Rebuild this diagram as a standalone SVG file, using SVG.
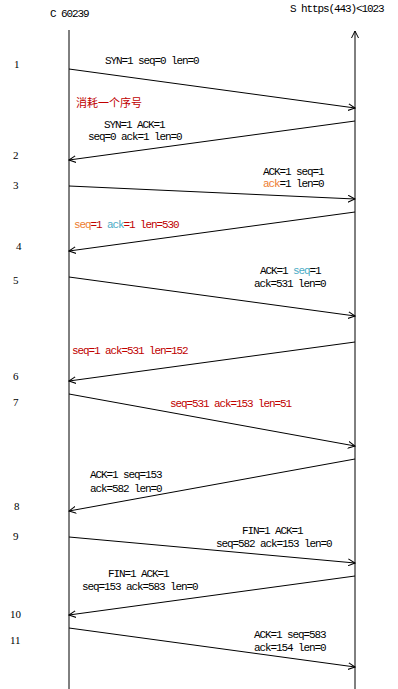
<svg xmlns="http://www.w3.org/2000/svg" width="398" height="689" viewBox="0 0 398 689">
<style>
.t{font-family:"Liberation Mono","DejaVu Sans Mono",monospace;font-size:11px;letter-spacing:-1.1px;fill:#000}
.n{font-family:"Liberation Serif",serif;font-size:11px;fill:#000}
.r{fill:#C00000}.o{fill:#ED7D31}.b{fill:#4BACC6}
.cjk{font-family:"Noto Sans CJK SC",sans-serif;font-size:11px;fill:#C00000}
.ln{stroke:#000;stroke-width:1;fill:none}
</style>
<defs>
<marker id="ah" viewBox="0 0 8 8" refX="7" refY="4" markerWidth="8" markerHeight="8" markerUnits="userSpaceOnUse" orient="auto">
<path d="M0,0.5 L7,4 L0,7.5" fill="none" stroke="#000" stroke-width="1"/>
</marker>
</defs>
<rect width="398" height="689" fill="#fff"/>
<g id="client">
<text class="t" x="50" y="17">C 60239</text>
</g>
<g id="server">
<text class="t" x="290" y="12">S https(443)&lt;1023</text>
</g>
<g id="steps">
<text class="n" x="14" y="68">1</text>
<text class="n" x="13" y="159">2</text>
<text class="n" x="13" y="189">3</text>
<text class="n" x="16" y="250">4</text>
<text class="n" x="13" y="284">5</text>
<text class="n" x="13" y="380">6</text>
<text class="n" x="13" y="406">7</text>
<text class="n" x="14" y="510">8</text>
<text class="n" x="13" y="540">9</text>
<text class="n" x="10" y="618">10</text>
<text class="n" x="10" y="644">11</text>
</g>
<g id="connectors">
<line class="ln" x1="69" y1="689" x2="69" y2="30"/>
<line class="ln" x1="355" y1="689" x2="355" y2="31" marker-end="url(#ah)"/>
<line class="ln" x1="69" y1="69" x2="355" y2="108" marker-end="url(#ah)"/>
<line class="ln" x1="355" y1="121" x2="69" y2="160" marker-end="url(#ah)"/>
<line class="ln" x1="69" y1="186" x2="355" y2="199" marker-end="url(#ah)"/>
<line class="ln" x1="355" y1="212" x2="69" y2="251" marker-end="url(#ah)"/>
<line class="ln" x1="69" y1="277" x2="355" y2="316" marker-end="url(#ah)"/>
<line class="ln" x1="355" y1="342" x2="69" y2="381" marker-end="url(#ah)"/>
<line class="ln" x1="69" y1="394" x2="355" y2="446" marker-end="url(#ah)"/>
<line class="ln" x1="355" y1="459" x2="69" y2="511" marker-end="url(#ah)"/>
<line class="ln" x1="69" y1="537" x2="355" y2="563" marker-end="url(#ah)"/>
<line class="ln" x1="355" y1="576" x2="69" y2="615" marker-end="url(#ah)"/>
<line class="ln" x1="69" y1="628" x2="355" y2="667" marker-end="url(#ah)"/>
</g>
<g id="msg1">
<text class="t" x="105" y="64">SYN=1 seq=0 len=0</text>
<text class="cjk" x="76" y="107">消耗一个序号</text>
</g>
<g id="msg2">
<text class="t" x="104" y="128">SYN=1 ACK=1</text>
<text class="t" x="88" y="140">seq=0 ack=1 len=0</text>
</g>
<g id="msg3">
<text class="t" x="263" y="175">ACK=1 seq=1</text>
<text class="t o" x="263" y="187">ack</text>
<text class="t" x="279.5" y="187">=1 len=0</text>
</g>
<g id="msg4">
<text class="t o" x="74" y="228">seq</text>
<text class="t r" x="90.5" y="228">=1</text>
<text class="t b" x="107" y="228">ack</text>
<text class="t r" x="123.5" y="228">=1 len=530</text>
</g>
<g id="msg5">
<text class="t" x="260" y="274">ACK=1</text>
<text class="t b" x="293" y="274">seq</text>
<text class="t" x="309.5" y="274">=1</text>
<text class="t" x="254" y="287">ack=531 len=0</text>
</g>
<g id="msg6">
<text class="t r" x="72" y="354">seq=1 ack=531 len=152</text>
</g>
<g id="msg7">
<text class="t r" x="170" y="407">seq=531 ack=153 len=51</text>
</g>
<g id="msg8">
<text class="t" x="90" y="478">ACK=1 seq=153</text>
<text class="t" x="90" y="492">ack=582 len=0</text>
</g>
<g id="msg9">
<text class="t" x="242" y="534">FIN=1 ACK=1</text>
<text class="t" x="216" y="547">seq=582 ack=153 len=0</text>
</g>
<g id="msg10">
<text class="t" x="108" y="577">FIN=1 ACK=1</text>
<text class="t" x="82" y="590">seq=153 ack=583 len=0</text>
</g>
<g id="msg11">
<text class="t" x="254" y="638">ACK=1 seq=583</text>
<text class="t" x="254" y="651">ack=154 len=0</text>
</g>
</svg>
